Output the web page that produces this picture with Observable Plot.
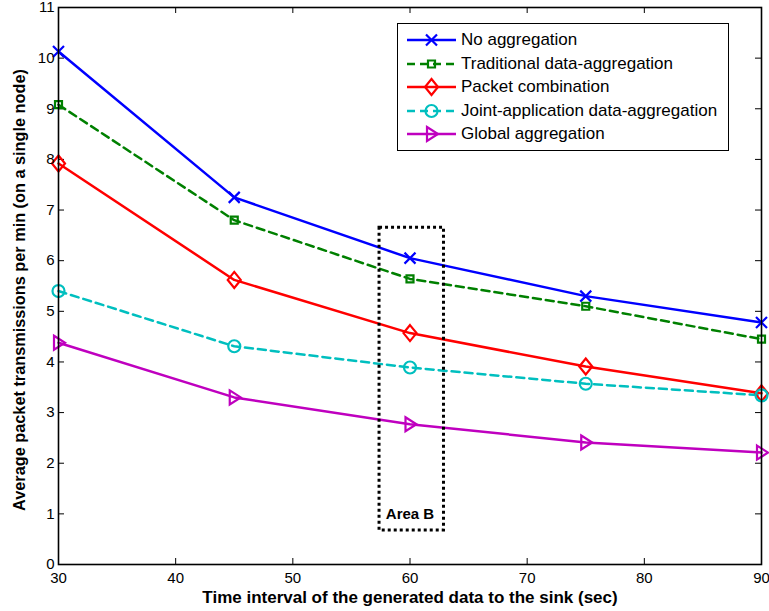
<!DOCTYPE html>
<html><head><meta charset="utf-8">
<script src="https://cdn.jsdelivr.net/npm/d3@7"></script>
<script src="https://cdn.jsdelivr.net/npm/@observablehq/plot@0.6"></script>
<style>
body{margin:0;background:#fff;}
#wrap{position:relative;width:769px;height:611px;font-family:"Liberation Sans",Arial,sans-serif;}
#wrap svg [aria-label$="tick label"]{font-size:15px !important;}
#legend{position:absolute;left:397px;top:23px;width:332px;height:128px;border:1px solid #000;background:#fff;box-sizing:border-box;}
.row{position:absolute;left:8px;height:24px;display:flex;align-items:center;font-size:17px;color:#000;white-space:nowrap;}
.row svg{margin-right:3px;}
</style></head>
<body><div id="wrap"><div id="legend"></div></div>
<script>
// ---- data ----
const xValues = [30, 45, 60, 75, 90];
const seriesNames = ["No aggregation", "Traditional data-aggregation", "Packet combination", "Joint-application data-aggregation", "Global aggregation"];
const noAggregation = [10.13, 7.25, 6.05, 5.30, 4.78];
const traditionalAgg = [9.08, 6.80, 5.64, 5.10, 4.45];
const packetCombination = [7.92, 5.62, 4.57, 3.91, 3.38];
const jointAppAgg = [5.40, 4.31, 3.89, 3.57, 3.34];
const globalAgg = [4.38, 3.30, 2.77, 2.41, 2.21];
const seriesColors = ["#0000ff", "#008000", "#ff0000", "#00bfbf", "#bf00bf"];
const xTicks = [30, 40, 50, 60, 70, 80, 90];
const yTicks = [0,1,2,3,4,5,6,7,8,9,10,11];
const xTitle = "Time interval of the generated data to the sink (sec)";
const yTitle = "Average packet transmissions per min (on a single node)";
const areaB = [{x1: 57.4, x2: 62.9, y1: 0.67, y2: 6.65}];
const areaLabel = [{x: 60, y: 1.0, text: "Area B"}];

// ---- marker symbols (MATLAB style) ----
const symTimes = {draw(c){c.moveTo(-5.5,-5.5);c.lineTo(5.5,5.5);c.moveTo(5.5,-5.5);c.lineTo(-5.5,5.5);}};
const symSquare = {draw(c){c.moveTo(-3.5,-3.5);c.lineTo(3.5,-3.5);c.lineTo(3.5,3.5);c.lineTo(-3.5,3.5);c.closePath();}};
const symDiamond = {draw(c){c.moveTo(0,-8);c.lineTo(6.5,0);c.lineTo(0,8);c.lineTo(-6.5,0);c.closePath();}};
const symCircle = {draw(c){c.moveTo(6,0);c.arc(0,0,6,0,2*Math.PI);c.closePath();}};
const symTriRight = {draw(c){c.moveTo(-4.5,-7);c.lineTo(6.5,0);c.lineTo(-4.5,7);c.closePath();}};

const series = [
  {name: seriesNames[0], values: noAggregation, color: seriesColors[0], dash: null, symbol: symTimes},
  {name: seriesNames[1], values: traditionalAgg, color: seriesColors[1], dash: "8,5", symbol: symSquare},
  {name: seriesNames[2], values: packetCombination, color: seriesColors[2], dash: null, symbol: symDiamond},
  {name: seriesNames[3], values: jointAppAgg, color: seriesColors[3], dash: "8,5", symbol: symCircle},
  {name: seriesNames[4], values: globalAgg, color: seriesColors[4], dash: null, symbol: symTriRight}
];

const W = 769, H = 611, ML = 58, MR = 8, MT = 7, MB = 47;
const fw = W - ML - MR, fh = H - MT - MB;

const marks = [];
// inward ticks on all four sides
marks.push(Plot.tickY(yTicks, {y: d => d, insetRight: fw - 6, stroke: "#000", strokeWidth: 1}));
marks.push(Plot.tickY(yTicks, {y: d => d, insetLeft: fw - 6, stroke: "#000", strokeWidth: 1}));
marks.push(Plot.tickX(xTicks, {x: d => d, insetTop: fh - 6, stroke: "#000", strokeWidth: 1}));
marks.push(Plot.tickX(xTicks, {x: d => d, insetBottom: fh - 6, stroke: "#000", strokeWidth: 1}));

series.forEach(s => {
  const rows = xValues.map((x, i) => ({x, y: s.values[i]}));
  marks.push(Plot.line(rows, {x: "x", y: "y", stroke: s.color, strokeWidth: 2.5, strokeDasharray: s.dash ?? undefined}));
});
series.forEach(s => {
  const rows = xValues.map((x, i) => ({x, y: s.values[i]}));
  marks.push(Plot.dot(rows, {x: "x", y: "y", symbol: s.symbol, stroke: s.color, fill: "none", strokeWidth: 2.2}));
});

marks.push(Plot.rect(areaB, {x1: "x1", x2: "x2", y1: "y1", y2: "y2", fill: "none", stroke: "#000", strokeWidth: 3, strokeDasharray: "3,3"}));
marks.push(Plot.text(areaLabel, {x: "x", y: "y", text: "text", fontWeight: "bold", fontSize: 15, fill: "#000"}));

marks.push(Plot.axisX({ticks: xTicks, tickSize: 0, tickPadding: 8, fontSize: 15, label: null}));
marks.push(Plot.axisY({ticks: yTicks, tickSize: 0, tickPadding: 4, fontSize: 15, label: null}));
marks.push(Plot.frame({stroke: "#000", strokeWidth: 1.6}));
marks.push(Plot.text([xTitle], {frameAnchor: "bottom", dy: 38, text: d => d, fontWeight: "bold", fontSize: 17, fill: "#000"}));
marks.push(Plot.text([yTitle], {frameAnchor: "left", dx: -39, dy: 4, rotate: -90, textAnchor: "middle", text: d => d, fontWeight: "bold", fontSize: 16.3, fill: "#000"}));

const chart = Plot.plot({
  width: W, height: H,
  marginLeft: ML, marginRight: MR, marginTop: MT, marginBottom: MB,
  x: {domain: [30, 90]},
  y: {domain: [0, 11]},
  style: {fontFamily: "'Liberation Sans', Arial, sans-serif", fontSize: "15px", color: "#000", background: "#fff", overflow: "visible"},
  marks
});
const wrap = document.getElementById("wrap");
wrap.insertBefore(chart, wrap.firstChild);

// legend
const legend = document.getElementById("legend");
series.forEach((s, i) => {
  const row = document.createElement("div");
  row.className = "row";
  row.style.top = (4 + i * 23.6) + "px";
  const p = d3.path(); s.symbol.draw(p);
  const svg = d3.create("svg").attr("width", 52).attr("height", 24);
  svg.append("line").attr("x1", 1).attr("x2", 50).attr("y1", 12).attr("y2", 12)
    .attr("stroke", s.color).attr("stroke-width", 2.5).attr("stroke-dasharray", s.dash);
  svg.append("path").attr("d", p.toString()).attr("transform", "translate(25.5,12)")
    .attr("fill", "none").attr("stroke", s.color).attr("stroke-width", 2.2);
  row.appendChild(svg.node());
  const t = document.createElement("span"); t.textContent = s.name;
  row.appendChild(t);
  legend.appendChild(row);
});
</script></body></html>
